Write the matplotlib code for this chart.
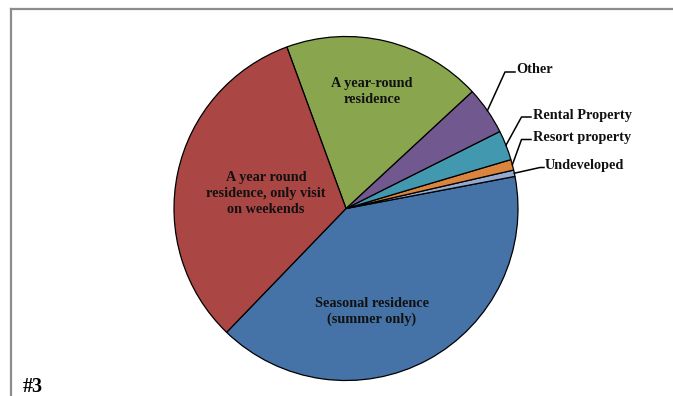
import numpy as np
import matplotlib
matplotlib.use("Agg")
import matplotlib.pyplot as plt
from matplotlib.lines import Line2D

# Share of responses by property use (percent), counter-clockwise order
categories = [
    "Seasonal residence\n(summer only)",
    "Undeveloped",
    "Resort property",
    "Rental Property",
    "Other",
    "A year-round\nresidence",
    "A year round\nresidence, only visit\non weekends",
]
values = [40.2, 0.6, 1.0, 2.8, 4.5, 18.7, 32.2]
colors = ["#4572A7", "#93A9CF", "#DB843D", "#4198AF", "#71588F", "#89A54E", "#AA4643"]

W, H = 673, 396
fig = plt.figure(figsize=(W / 100, H / 100), dpi=100)
fig.patch.set_facecolor("white")

# Pie placed by pixel geometry: centre and radius
cx, cy, R = 346, 208.5, 172
ax = fig.add_axes([(cx - R) / W, (H - cy - R) / H, 2 * R / W, 2 * R / H])

wedges, _ = ax.pie(values, colors=colors, startangle=-133.96, counterclock=True,
                   radius=1.0, wedgeprops=dict(edgecolor="black", linewidth=0.9))
ax.set_xlim(-1, 1)
ax.set_ylim(-1, 1)
ax.set_aspect("equal")
ax.axis("off")

def px(x, y):
    """pixel position -> data coordinates of the pie axes"""
    return (x - cx) / R, (cy - y) / R

font = dict(family=["Liberation Serif", "DejaVu Serif"], weight="bold", size=10.3)

# Labels inside the large slices
inside = {0: (372, 311.5), 5: (372, 91.5), 6: (266, 194)}
for i, (x, y) in inside.items():
    tx, ty = px(x, y)
    ax.text(tx, ty, categories[i], ha="center", va="center", ma="center",
            linespacing=1.3, color="#111111", **font)

# Labels outside the small slices with leader lines
outside = {
    4: ((505, 72), (515, 72), (516, 73)),
    3: ((521.5, 117), (531, 117), (533, 118.5)),
    2: ((521.5, 139.5), (531, 139.5), (533, 141)),
    1: ((540, 167.5), (544, 167.5), (545, 168.8)),
}
for i, (elbow, end, txt) in outside.items():
    w = wedges[i]
    mid = np.deg2rad((w.theta1 + w.theta2) / 2)
    start = (np.cos(mid), np.sin(mid))
    ex, ey = px(*elbow)
    nx, ny = px(*end)
    ax.add_line(Line2D([start[0], ex, nx], [start[1], ey, ny], color="black",
                       linewidth=1.1, clip_on=False))
    tx, ty = px(*txt)
    ax.text(tx, ty, categories[i], ha="left", va="baseline", color="#111111", **font)

# Chart frame (top and left edges only)
fig.add_artist(Line2D([10.5 / W, 1.0], [1 - 8.5 / H, 1 - 8.5 / H],
                      transform=fig.transFigure, color="#8c8c8c", linewidth=1.6))
fig.add_artist(Line2D([10.5 / W, 10.5 / W], [0, 1 - 8.5 / H],
                      transform=fig.transFigure, color="#8c8c8c", linewidth=1.6))

fig.text(23 / W, 1 - 392.5 / H, "#3", ha="left", va="baseline",
         family=["Liberation Serif", "DejaVu Serif"], weight="bold", size=14.4)

fig.savefig("out.png", dpi=100, facecolor="white")
